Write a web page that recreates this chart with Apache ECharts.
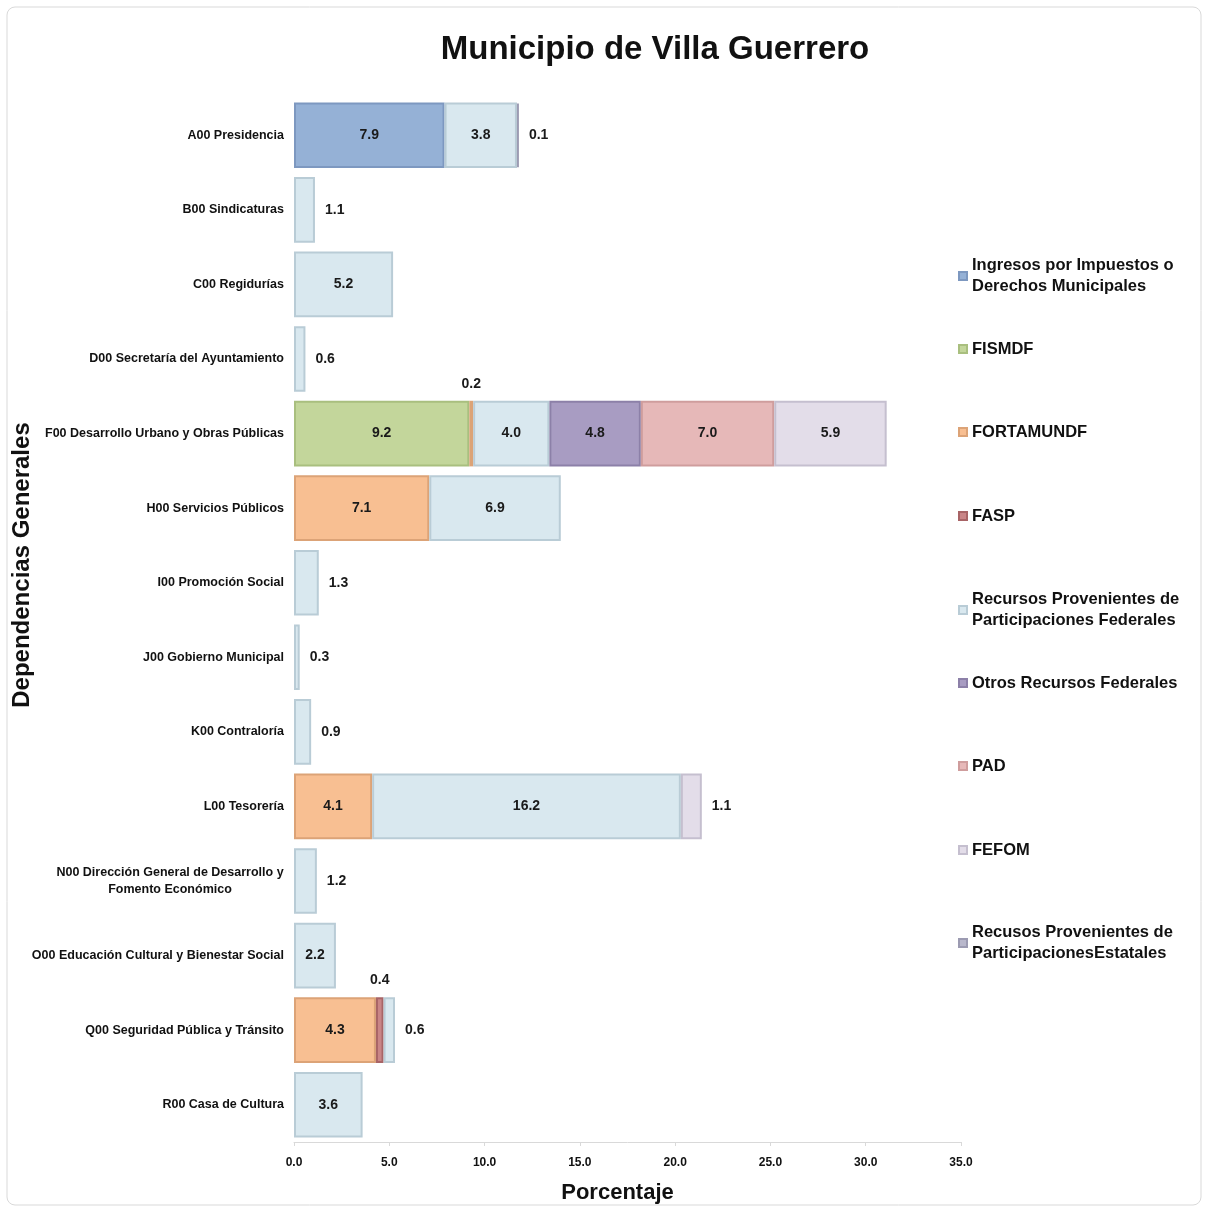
<!DOCTYPE html>
<html>
<head>
<meta charset="utf-8">
<script src="https://cdn.jsdelivr.net/npm/echarts@6/dist/echarts.min.js"></script>
<style>
  html, body { margin: 0; padding: 0; background: #fff; }
  #main { width: 1205px; height: 1209px; }
</style>
</head>
<body>
<div id="main"></div>
<script>
const categories = [
  'A00 Presidencia',
  'B00 Sindicaturas',
  'C00 Regidurías',
  'D00 Secretaría del Ayuntamiento',
  'F00 Desarrollo Urbano y Obras Públicas',
  'H00 Servicios Públicos',
  'I00 Promoción Social',
  'J00 Gobierno Municipal',
  'K00 Contraloría',
  'L00 Tesorería',
  'N00 Dirección General de Desarrollo y\nFomento Económico',
  'O00 Educación Cultural y Bienestar Social',
  'Q00 Seguridad Pública y Tránsito',
  'R00 Casa de Cultura'
];

// one value per category, top to bottom; null = no segment
const ingresos   = [7.9, null, null, null, null, null, null, null, null, null, null, null, null, null];
const fismdf     = [null, null, null, null, 9.2, null, null, null, null, null, null, null, null, null];
const fortamundf = [null, null, null, null, 0.2, 7.1, null, null, null, 4.1, null, null, 4.3, null];
const fasp       = [null, null, null, null, null, null, null, null, null, null, null, null, 0.4, null];
const partFed    = [3.8, 1.1, 5.2, 0.6, 4.0, 6.9, 1.3, 0.3, 0.9, 16.2, 1.2, 2.2, 0.6, 3.6];
const otrosFed   = [null, null, null, null, 4.8, null, null, null, null, null, null, null, null, null];
const pad        = [null, null, null, null, 7.0, null, null, null, null, null, null, null, null, null];
const fefom      = [null, null, null, null, 5.9, null, null, null, null, 1.1, null, null, null, null];
const estatales  = [0.1, null, null, null, null, null, null, null, null, null, null, null, null, null];

const seriesNames = [
  'Ingresos por Impuestos o\nDerechos Municipales',
  'FISMDF',
  'FORTAMUNDF',
  'FASP',
  'Recursos Provenientes de\nParticipaciones Federales',
  'Otros Recursos Federales',
  'PAD',
  'FEFOM',
  'Recusos Provenientes de\nParticipacionesEstatales'
];
const seriesData = [ingresos, fismdf, fortamundf, fasp, partFed, otrosFed, pad, fefom, estatales];
const colors = ['#95b1d6', '#c3d69b', '#f8bf92', '#c98587', '#d9e8ef', '#a89cc2', '#e6b8b8', '#e3dde9', '#b9b8cc'];
const borders = ['#7d98c0', '#a9bf7f', '#dca377', '#a86466', '#b9ccd6', '#8c80a8', '#cf9d9d', '#c5bfcf', '#9c9bb2'];
const legendCenters = [276, 349, 432, 516, 610, 683, 766, 850, 943];

const FONT = '"Liberation Sans", Arial, sans-serif';

// last non-empty segment in each row
const lastIdx = categories.map((c, i) => {
  let last = -1;
  seriesData.forEach((arr, s) => { if (arr[i] != null) last = s; });
  return last;
});

const series = seriesData.map((arr, s) => ({
  name: seriesNames[s],
  type: 'bar',
  stack: 'total',
  barCategoryGap: '12%',
  itemStyle: { color: colors[s], borderColor: borders[s], borderWidth: 2 },
  label: {
    show: true,
    position: 'inside',
    fontFamily: FONT,
    fontWeight: 'bold',
    fontSize: 14,
    color: '#1a1a1a',
    formatter: p => p.value == null ? '' : p.value.toFixed(1)
  },
  data: arr.map((v, i) => {
    if (v == null) return null;
    if (v < 2) {
      return { value: v, label: { position: lastIdx[i] === s ? 'right' : 'top', distance: 10 } };
    }
    return v;
  })
}));

const legends = seriesNames.map((n, s) => {
  const lines = n.split('\n').length;
  return {
    data: [n],
    orient: 'vertical',
    left: 958,
    top: legendCenters[s] - lines * 10.5,
    padding: 0,
    itemWidth: 8,
    itemHeight: 8,
    icon: 'rect',
    selectedMode: false,
    textStyle: { fontFamily: FONT, fontWeight: 'bold', fontSize: 16.5, lineHeight: 21, color: '#111' }
  };
});

const chart = echarts.init(document.getElementById('main'));
chart.setOption({
  backgroundColor: '#fff',
  animation: false,
  title: {
    text: 'Municipio de Villa Guerrero',
    left: 650,
    textAlign: 'center',
    top: 28,
    textStyle: { fontFamily: FONT, fontWeight: 'bold', fontSize: 33, color: '#111' }
  },
  graphic: [{
    type: 'rect',
    shape: { x: 7, y: 7, width: 1194, height: 1198, r: 8 },
    style: { fill: 'none', stroke: '#d9d9d9', lineWidth: 1 },
    silent: true
  }, {
    type: 'text',
    x: 22,
    y: 565,
    rotation: Math.PI / 2,
    style: {
      text: 'Dependencias Generales',
      fontFamily: FONT,
      fontWeight: 'bold',
      fontSize: 24,
      fill: '#111',
      align: 'center',
      verticalAlign: 'middle'
    },
    silent: true
  }],
  legend: legends,
  grid: { left: 294, right: 244, top: 98, bottom: 67, outerBoundsMode: 'none' },
  xAxis: {
    type: 'value',
    min: 0,
    max: 35,
    interval: 5,
    name: 'Porcentaje',
    nameLocation: 'middle',
    nameGap: 40,
    nameTextStyle: { fontFamily: FONT, fontWeight: 'bold', fontSize: 22, color: '#111', padding: [0, 20, 0, 0] },
    axisLine: { show: true, lineStyle: { color: '#d9d9d9' } },
    axisTick: { show: true, length: 4, lineStyle: { color: '#d9d9d9' } },
    splitLine: { show: false },
    axisLabel: {
      margin: 15,
      fontFamily: FONT,
      fontWeight: 'bold',
      fontSize: 12,
      color: '#111',
      formatter: v => v.toFixed(1)
    }
  },
  yAxis: {
    type: 'category',
    inverse: true,
    data: categories,
    axisLine: { show: false },
    axisTick: { show: false },
    axisLabel: {
      margin: 10,
      fontFamily: FONT,
      fontWeight: 'bold',
      fontSize: 12.5,
      lineHeight: 17,
      color: '#111',
      formatter: v => v.includes('\n') ? v.split('\n').map(l => '{c|' + l + '}').join('\n') : v,
      rich: {
        c: { width: 228, align: 'center', fontFamily: FONT, fontWeight: 'bold', fontSize: 12.5, lineHeight: 17, color: '#111' }
      }
    }
  },
  series: series
});
</script>
</body>
</html>
